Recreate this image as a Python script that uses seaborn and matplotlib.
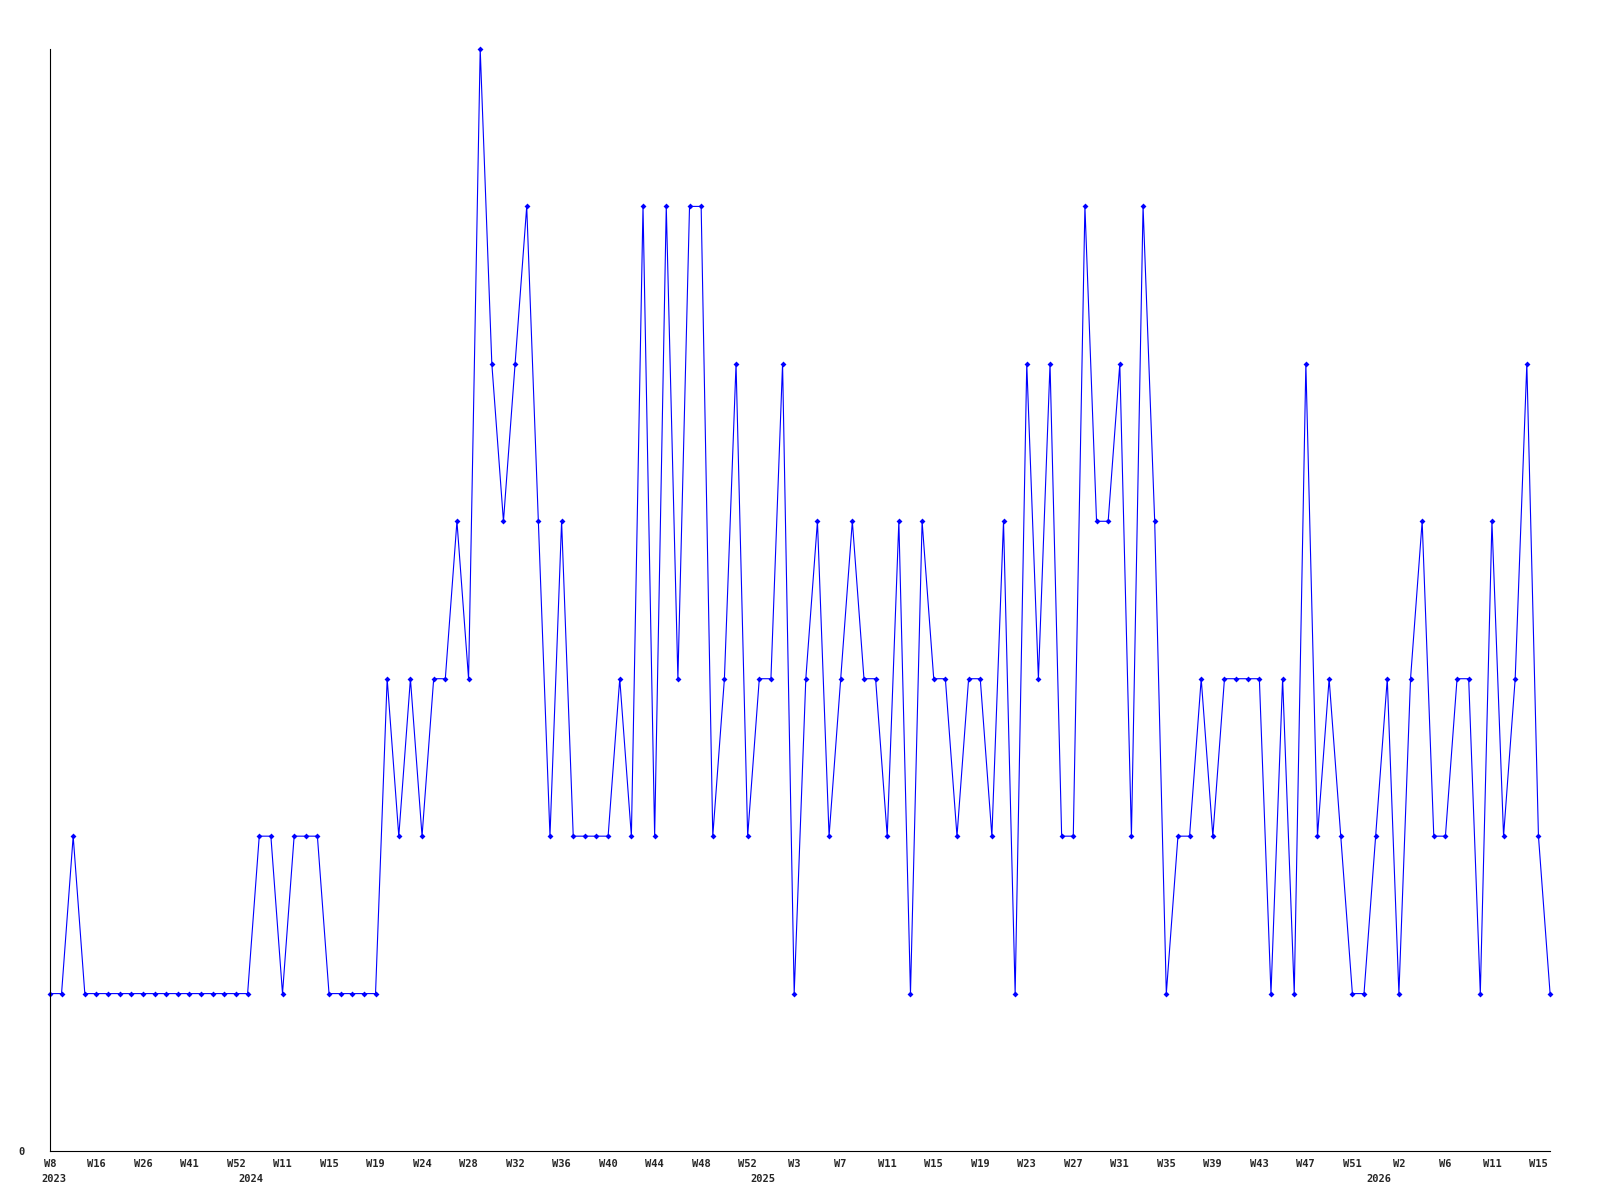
import numpy as np
import pandas as pd
import matplotlib
matplotlib.use('Agg')
import matplotlib.pyplot as plt
import seaborn as sns

# values, one per point (130 points)
values = [1, 1, 2] + [1] * 15 + [2, 2, 1, 2, 2, 2] + [1] * 5 + \
    [3, 2, 3, 2, 3, 3, 4, 3, 7, 5, 4, 5, 6, 4, 2, 4, 2, 2, 2, 2, 3, 2, 6, 2, 6, 3, 6, 6] + \
    [2, 3, 5, 2, 3, 3, 5, 1, 3, 4, 2, 3, 4, 3, 3, 2, 4, 1, 4, 3, 3, 2, 3, 3, 2, 4, 1] + \
    [5, 3, 5, 2, 2, 6, 4, 4, 5, 2, 6, 4, 1, 2, 2, 3, 2, 3, 3, 3, 3, 1, 3, 1, 5] + \
    [2, 3, 2, 1, 1, 2, 3, 1, 3, 4, 2, 2, 3, 3, 1, 4, 2, 3, 5, 2, 1]

# tick labels, one every 4 points
week_labels = ['W8', 'W16', 'W26', 'W41', 'W52', 'W11', 'W15', 'W19', 'W24', 'W28',
               'W32', 'W36', 'W40', 'W44', 'W48', 'W52', 'W3', 'W7', 'W11', 'W15',
               'W19', 'W23', 'W27', 'W31', 'W35', 'W39', 'W43', 'W47', 'W51', 'W2',
               'W6', 'W11', 'W15']
tick_step = 4

# year labels and the index of the first point of each year
years = ['2023', '2024', '2025', '2026']
year_start = [0, 17, 61, 114]

df = pd.DataFrame({'idx': np.arange(len(values)), 'value': values})

sns.set_style('white')
plt.rcParams['font.family'] = ['DejaVu Sans Mono', 'DejaVu Sans']

fig = plt.figure(figsize=(16, 12), dpi=100)
ax = fig.add_axes([0.0312, 0.0408, 0.9376, 0.9184])

sns.lineplot(data=df, x='idx', y='value', ax=ax, color='#0000ff', linewidth=0.8,
             marker='D', markersize=3, markeredgewidth=0, sort=False, clip_on=False)

ax.set_xlim(0, len(values) - 1)
ax.set_ylim(0, 7)

ax.set_xticks(np.arange(0, len(values), tick_step)[:len(week_labels)])
ax.set_xticklabels(week_labels, fontsize=7.5, fontweight='bold')
ax.set_yticks([0])
ax.set_yticklabels(['0'], fontsize=7.5, fontweight='bold')
ax.tick_params(axis='x', length=0, pad=5.5)
ax.tick_params(axis='y', length=0, pad=18)

for y, i in zip(years, year_start):
    ax.annotate(y, xy=(i, 0), xycoords=('data', 'axes fraction'),
                xytext=(2.5, -16.5), textcoords='offset points',
                ha='center', va='top', fontsize=7.5, fontweight='bold')

ax.set_xlabel('')
ax.set_ylabel('')
for side in ['top', 'right']:
    ax.spines[side].set_visible(False)
for side in ['left', 'bottom']:
    ax.spines[side].set_color('black')
    ax.spines[side].set_linewidth(0.8)
ax.grid(False)

fig.savefig('out.png', dpi=100)
